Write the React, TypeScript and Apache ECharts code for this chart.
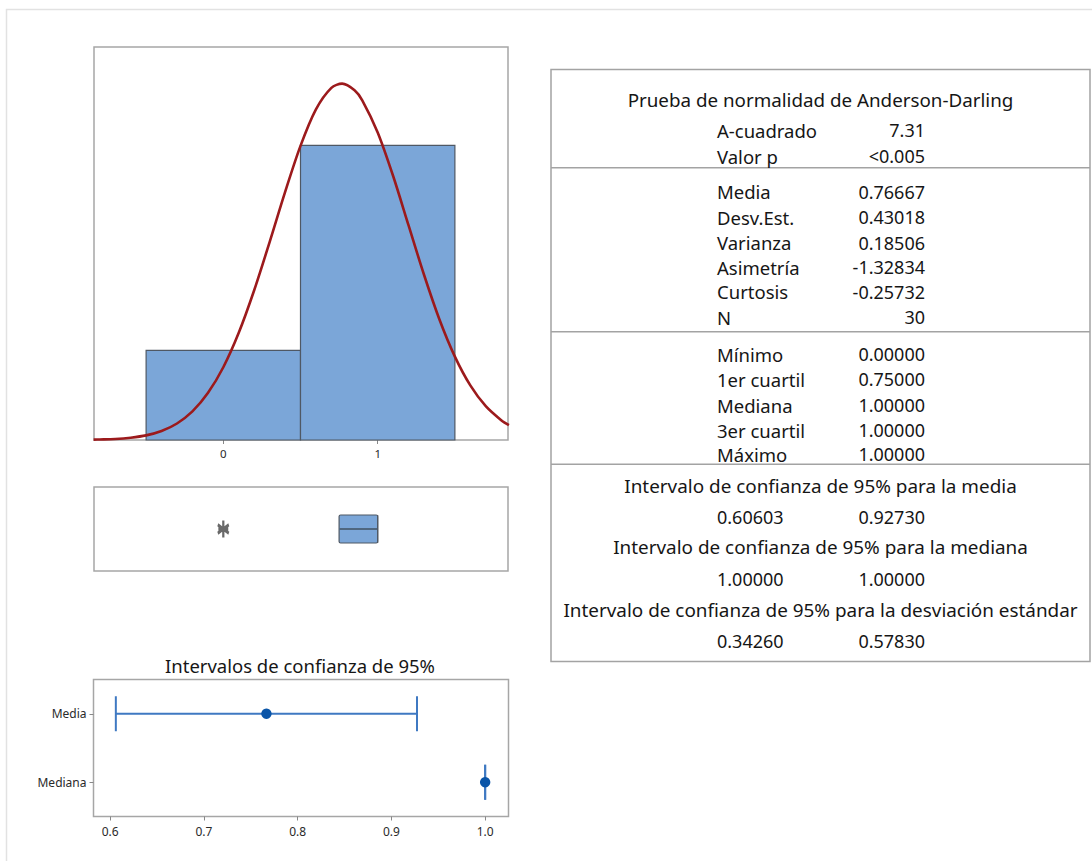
import React, { useEffect, useRef } from 'react';
import * as echarts from 'echarts';

// ---------- data ----------
const histEdges = [-0.5, 0.5, 1.5];
const histCounts = [7, 23];
const histTicks = [0, 1];

const curveX = [-0.84, -0.8, -0.7, -0.6, -0.5, -0.4, -0.3, -0.2, -0.1, 0, 0.1, 0.2, 0.3, 0.4, 0.5, 0.6, 0.7, 0.77, 0.85, 0.9, 1.0, 1.1, 1.2, 1.3, 1.4, 1.5, 1.6, 1.7, 1.8, 1.85];
const curveY = [0.03, 0.04, 0.08, 0.18, 0.36, 0.70, 1.29, 2.23, 3.66, 5.68, 8.37, 11.69, 15.45, 19.35, 22.96, 25.81, 27.49, 27.82, 27.30, 26.52, 24.01, 20.61, 16.75, 12.90, 9.41, 6.51, 4.26, 2.64, 1.55, 1.17];

const boxQuartiles = [0.75, 1.0, 1.0]; // Q1, mediana, Q3
const boxOutliers = [0];

const ciCategories = ['Media', 'Mediana'];
const ciLow = [0.60603, 1.0];
const ciHigh = [0.9273, 1.0];
const ciPoint = [0.76667, 1.0];
const ciTicks = [0.6, 0.7, 0.8, 0.9, 1.0];

const adTitle = 'Prueba de normalidad de Anderson-Darling';
const adLabels = ['A-cuadrado', 'Valor p'];
const adValues = ['7.31', '<0.005'];
const descLabels = ['Media', 'Desv.Est.', 'Varianza', 'Asimetría', 'Curtosis', 'N'];
const descValues = ['0.76667', '0.43018', '0.18506', '-1.32834', '-0.25732', '30'];
const quantLabels = ['Mínimo', '1er cuartil', 'Mediana', '3er cuartil', 'Máximo'];
const quantValues = ['0.00000', '0.75000', '1.00000', '1.00000', '1.00000'];
const ciTableTitles = [
  'Intervalo de confianza de 95% para la media',
  'Intervalo de confianza de 95% para la mediana',
  'Intervalo de confianza de 95% para la desviación estándar',
];
const ciTableLows = ['0.60603', '1.00000', '0.34260'];
const ciTableHighs = ['0.92730', '1.00000', '0.57830'];
const ciPlotTitle = 'Intervalos de confianza de 95%';

// ---------- layout ----------
const FONT = 'Noto Sans';
const TXT = '#161616';
const HX_MIN = -0.8375;
const HX_MAX = 1.844;

function buildTable(): any[] {
  const els: any[] = [];
  const L = 551, R = 1090, T = 69.5, B = 661.5;
  const cx = (L + R) / 2;
  const labelX = 717;
  const valueX = 925;
  const txt = (text: string, x: number, y: number, align: string, fs = 18) => ({
    type: 'text',
    x,
    y,
    silent: true,
    style: { text, fill: TXT, font: `${fs}px "${FONT}"`, align, verticalAlign: 'middle' },
  });
  els.push({ type: 'rect', shape: { x: L, y: T, width: R - L, height: B - T }, style: { fill: 'none', stroke: '#a3a3a3', lineWidth: 1.5 } });
  [167.7, 331.7, 464.3].forEach((y) =>
    els.push({ type: 'line', shape: { x1: L, y1: y, x2: R, y2: y }, style: { stroke: '#a3a3a3', lineWidth: 1.5 } })
  );
  els.push(txt(adTitle, cx, 99.5, 'center', 18.8));
  const adY = [130, 156];
  adLabels.forEach((l, i) => {
    els.push(txt(l, labelX, adY[i], 'left', 18.5));
    els.push(txt(adValues[i], valueX, adY[i], 'right'));
  });
  const descY = [191.7, 217, 242.5, 267.3, 291.7, 317.3];
  descLabels.forEach((l, i) => {
    els.push(txt(l, labelX, descY[i], 'left', 18.5));
    els.push(txt(descValues[i], valueX, descY[i], 'right'));
  });
  const quantY = [354, 379.3, 405, 430, 454];
  quantLabels.forEach((l, i) => {
    els.push(txt(l, labelX, quantY[i], 'left', 18.5));
    els.push(txt(quantValues[i], valueX, quantY[i], 'right'));
  });
  const ciTitleY = [486, 547.3, 610];
  const ciValY = [516.7, 579.3, 640.7];
  ciTableTitles.forEach((t, i) => {
    els.push(txt(t, cx, ciTitleY[i], 'center', 18.9));
    els.push(txt(ciTableLows[i], labelX, ciValY[i], 'left'));
    els.push(txt(ciTableHighs[i], valueX, ciValY[i], 'right'));
  });
  return els;
}

export default function App() {
  const ref = useRef<HTMLDivElement>(null);
  useEffect(() => {
    if (!ref.current) return;
    const chart = echarts.init(ref.current, null, { renderer: 'svg' });
    const gridBorder = '#a6a6a6';
    const option: any = {
      animation: false,
      backgroundColor: '#ffffff',
      textStyle: { fontFamily: FONT },
      grid: [
        { left: 94, top: 47, width: 414, height: 393, show: true, borderColor: gridBorder, borderWidth: 1.5, backgroundColor: '#fff' },
        { left: 94, top: 487, width: 414, height: 84, show: true, borderColor: gridBorder, borderWidth: 1.5, backgroundColor: '#fff' },
        { left: 93.5, top: 679.5, width: 415, height: 137, show: true, borderColor: gridBorder, borderWidth: 1.5, backgroundColor: '#fff' },
      ],
      xAxis: [
        {
          gridIndex: 0,
          type: 'value',
          min: HX_MIN,
          max: HX_MAX,
          axisLine: { show: false },
          splitLine: { show: false },
          axisTick: { show: true, customValues: histTicks, length: 4, lineStyle: { color: '#888' } },
          axisLabel: { customValues: histTicks, fontSize: 11.5, color: '#2a2a2a', margin: 7, fontFamily: FONT },
        },
        {
          gridIndex: 1,
          type: 'value',
          min: HX_MIN,
          max: HX_MAX,
          show: false,
        },
        {
          gridIndex: 2,
          type: 'value',
          min: 0.5822,
          max: 1.0249,
          axisLine: { show: false },
          splitLine: { show: false },
          axisTick: { show: true, customValues: ciTicks, length: 4, lineStyle: { color: '#888' } },
          axisLabel: {
            customValues: ciTicks,
            fontSize: 12,
            color: '#2a2a2a',
            margin: 9,
            fontFamily: FONT,
            formatter: (v: number) => v.toFixed(1),
          },
        },
      ],
      yAxis: [
        { gridIndex: 0, type: 'value', min: 0, max: 30.68, show: false },
        { gridIndex: 1, type: 'value', min: 0, max: 1, show: false },
        {
          gridIndex: 2,
          type: 'category',
          data: ciCategories,
          inverse: true,
          axisLine: { show: false },
          axisTick: { show: true, alignWithLabel: true, length: 4, lineStyle: { color: '#888' } },
          axisLabel: { fontSize: 12, color: '#2a2a2a', margin: 7, fontFamily: FONT },
        },
      ],
      graphic: [
        { type: 'rect', shape: { x: 6.5, y: 9.5, width: 1200, height: 1000 }, style: { fill: 'none', stroke: '#e2e2e2', lineWidth: 1.5 }, z: -10 },
        {
          type: 'text',
          x: 300,
          y: 665,
          style: { text: ciPlotTitle, font: `18.5px "${FONT}"`, fill: TXT, align: 'center', verticalAlign: 'middle' },
        },
        ...buildTable(),
      ],
      series: [
        {
          type: 'custom',
          xAxisIndex: 0,
          yAxisIndex: 0,
          data: histCounts.map((c, i) => [histEdges[i], histEdges[i + 1], c]),
          encode: { x: [0, 1], y: 2 },
          renderItem: (params: any, api: any) => {
            const p0 = api.coord([api.value(0), api.value(2)]);
            const p1 = api.coord([api.value(1), 0]);
            return {
              type: 'rect',
              shape: { x: p0[0], y: p0[1], width: p1[0] - p0[0], height: p1[1] - p0[1] },
              style: { fill: '#7ba6d8', stroke: '#4f5864', lineWidth: 1.2 },
            };
          },
          z: 2,
        },
        {
          type: 'line',
          xAxisIndex: 0,
          yAxisIndex: 0,
          data: curveX.map((x, i) => [x, curveY[i]]),
          smooth: 0.3,
          showSymbol: false,
          symbol: 'none',
          lineStyle: { color: '#9c1a1c', width: 2.6 },
          z: 3,
          clip: true,
        },
        {
          type: 'custom',
          xAxisIndex: 1,
          yAxisIndex: 1,
          data: [[boxQuartiles[0], boxQuartiles[1], boxQuartiles[2], 0.5]],
          encode: { x: [0, 1, 2], y: 3 },
          renderItem: (params: any, api: any) => {
            const pl = api.coord([api.value(0), api.value(3)]);
            const pm = api.coord([api.value(1), api.value(3)]);
            const pr = api.coord([api.value(2), api.value(3)]);
            const h = 28;
            return {
              type: 'group',
              children: [
                {
                  type: 'rect',
                  shape: { x: pl[0], y: pl[1] - h / 2, width: pr[0] - pl[0], height: h, r: 1.5 },
                  style: { fill: '#7ba6d8', stroke: '#4f5864', lineWidth: 1.2 },
                },
                {
                  type: 'line',
                  shape: { x1: pl[0], y1: pl[1], x2: pr[0], y2: pr[1] },
                  style: { stroke: '#4f6780', lineWidth: 1.8 },
                },
                {
                  type: 'line',
                  shape: { x1: pm[0], y1: pm[1] - h / 2, x2: pm[0], y2: pm[1] + h / 2 },
                  style: { stroke: '#4f5864', lineWidth: 1.2 },
                },
              ],
            };
          },
        },
        {
          type: 'scatter',
          xAxisIndex: 1,
          yAxisIndex: 1,
          data: boxOutliers.map((v) => [v, 0.5]),
          symbol: 'path://M5,0L5,14M0,3.5L10,10.5M0,10.5L10,3.5M0.5,7L9.5,7',
          symbolSize: [11, 17],
          itemStyle: { color: 'none', borderColor: '#444', borderWidth: 2.8 },
        },
        {
          type: 'custom',
          xAxisIndex: 2,
          yAxisIndex: 2,
          data: ciCategories.map((c, i) => [i, ciLow[i], ciHigh[i], ciPoint[i]]),
          encode: { x: [1, 2, 3], y: 0 },
          renderItem: (params: any, api: any) => {
            const cat = api.value(0);
            const pl = api.coord([api.value(1), cat]);
            const ph = api.coord([api.value(2), cat]);
            const pp = api.coord([api.value(3), cat]);
            const cap = 17.5;
            const lineStyle = { stroke: '#3f79c2', lineWidth: 2 };
            return {
              type: 'group',
              children: [
                { type: 'line', shape: { x1: pl[0], y1: pl[1], x2: ph[0], y2: ph[1] }, style: lineStyle },
                { type: 'line', shape: { x1: pl[0], y1: pl[1] - cap, x2: pl[0], y2: pl[1] + cap }, style: lineStyle },
                { type: 'line', shape: { x1: ph[0], y1: ph[1] - cap, x2: ph[0], y2: ph[1] + cap }, style: lineStyle },
                { type: 'circle', shape: { cx: pp[0], cy: pp[1], r: 5.2 }, style: { fill: '#0a55a8', stroke: 'none' } },
              ],
            };
          },
        },
      ],
    };
    chart.setOption(option);
    return () => chart.dispose();
  }, []);
  return (
    <div
      ref={ref}
      style={{ position: 'fixed', left: 0, top: 0, width: 1092, height: 861, background: '#fff' }}
    />
  );
}
